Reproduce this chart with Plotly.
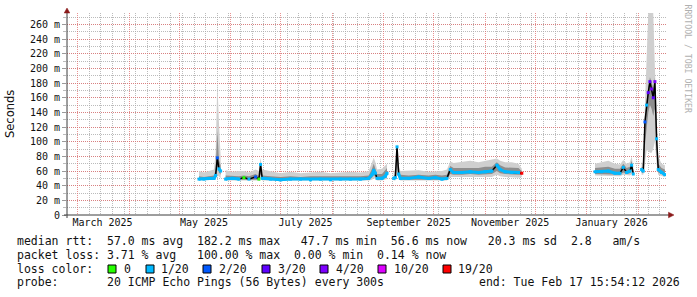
import plotly.graph_objects as go

# ---------------- data ----------------
x_start = "2025-02-22 15:54:12"
x_end = "2026-02-17 15:54:12"

dates = [
    "2025-05-13", "2025-05-16", "2025-05-19", "2025-05-22", "2025-05-23", "2025-05-24", "2025-05-25", "2025-05-26", "2025-05-27",
    "2025-05-29", "2025-06-02", "2025-06-06", "2025-06-09", "2025-06-12", "2025-06-16", "2025-06-18", "2025-06-19", "2025-06-20",
    "2025-06-25", "2025-07-01", "2025-07-07", "2025-07-13", "2025-07-19", "2025-07-25", "2025-07-31", "2025-08-06", "2025-08-12",
    "2025-08-18", "2025-08-23", "2025-08-25", "2025-08-26", "2025-08-27", "2025-08-28", "2025-08-31", "2025-09-02", "2025-09-03",
    "2025-09-05", "2025-09-07", "2025-09-08", "2025-09-09", "2025-09-10", "2025-09-11", "2025-09-16", "2025-09-22", "2025-09-28",
    "2025-10-02", "2025-10-06", "2025-10-09", "2025-10-11", "2025-10-13", "2025-10-18", "2025-10-23", "2025-10-28", "2025-11-01",
    "2025-11-05", "2025-11-08", "2025-11-10", "2025-11-13", "2025-11-17", "2025-11-21", "2025-11-23", "2025-11-24",
    "2026-01-06", "2026-01-10", "2026-01-14", "2026-01-18", "2026-01-21", "2026-01-23", "2026-01-25", "2026-01-27", "2026-01-28",
    "2026-01-29", "2026-01-31", "2026-02-03", "2026-02-04", "2026-02-05", "2026-02-06", "2026-02-07", "2026-02-08", "2026-02-09",
    "2026-02-10", "2026-02-11", "2026-02-12", "2026-02-13", "2026-02-15", "2026-02-17",
]

median_ms = [
    49, 49, 50, 50, 54, 78, 63, 60, None,
    49, 50, 49, 51, 49, 52, 49, 69, 50,
    49, 48, 49, 49, 48, 49, 48, 49, 49,
    49, 50, 55, 61, 57, 50, 50, 53, 57,
    None, 50, 51, 93, 56, 50, 50, 52, 50,
    51, 49, 50, 62, 58, 58, 59, 58, 59,
    60, 68, 62, 59, 58, 58, 57, None,
    59, 59, 60, 57, 57, 65, 58, 60, 68,
    56, None, 62, 60, 127, 150, 167, 182, 172,
    160, 182, 104, 62, 58, 55,
]

loss_count = [
    1, 1, 1, 1, 1, 2, 1, 1, None,
    1, 1, 1, 0, 1, 2, 0, 1, 1,
    1, 1, 1, 1, 1, 1, 1, 1, 1,
    1, 1, 1, 1, 1, 1, 1, 1, 1,
    None, 1, 1, 1, 1, 1, 1, 1, 1,
    1, 1, 1, 1, 1, 1, 1, 1, 1,
    1, 1, 1, 1, 1, 1, 19, None,
    1, 1, 1, 1, 1, 1, 1, 1, 1,
    1, None, 1, 1, 2, 1, 3, 3, 4,
    3, 4, 1, 1, 1, 1,
]

smoke_min = [
    47, 47, 47, 47, 48, 55, 52, 50, None,
    47, 47, 47, 47, 47, 47, 47, 50, 47,
    47, 46, 47, 47, 46, 47, 46, 47, 47,
    47, 47, 48, 50, 49, 47, 47, 48, 49,
    None, 47, 47, 55, 50, 47, 47, 47, 47,
    47, 47, 47, 52, 52, 51, 52, 51, 52,
    52, 55, 53, 52, 51, 51, 52, None,
    54, 54, 54, 53, 53, 55, 54, 54, 56,
    53, None, 55, 55, 70, 88, 88, 85, 85,
    90, 100, 70, 55, 53, 52,
]
smoke_lo = [
    48, 48, 48, 48, 50, 66, 58, 55, None,
    48, 48, 48, 48, 48, 49, 48, 56, 48,
    48, 47, 48, 48, 47, 48, 47, 48, 48,
    48, 48, 51, 55, 52, 48, 48, 50, 52,
    None, 48, 49, 70, 52, 48, 48, 49, 48,
    48, 48, 48, 56, 55, 55, 56, 55, 56,
    56, 60, 57, 56, 55, 55, 55, None,
    56, 56, 56, 55, 55, 58, 56, 57, 60,
    55, None, 58, 57, 95, 120, 140, 150, 145,
    135, 145, 90, 58, 56, 54,
]
smoke_hi = [
    53, 52, 53, 54, 62, 115, 75, 68, None,
    54, 53, 53, 54, 53, 56, 53, 72, 54,
    53, 52, 53, 52, 53, 53, 52, 52, 53,
    53, 54, 63, 70, 64, 56, 56, 62, 64,
    None, 53, 56, 95, 62, 55, 54, 55, 54,
    55, 54, 55, 67, 64, 64, 65, 64, 66,
    66, 72, 68, 65, 64, 64, 60, None,
    64, 65, 66, 63, 63, 70, 64, 66, 74,
    62, None, 66, 65, 135, 160, 175, 188, 182,
    172, 188, 118, 70, 64, 62,
]
smoke_max = [
    60, 58, 60, 62, 85, 182, 125, 80, None,
    61, 59, 60, 60, 58, 62, 60, 78, 62,
    60, 57, 59, 57, 58, 59, 57, 58, 59,
    58, 60, 72, 78, 72, 62, 63, 68, 70,
    None, 59, 63, 98, 68, 60, 60, 61, 59,
    60, 60, 62, 73, 71, 72, 74, 72, 74,
    75, 77, 74, 72, 72, 70, 63, None,
    70, 72, 74, 70, 69, 75, 70, 72, 80,
    66, None, 72, 70, 150, 210, 276, 276, 276,
    276, 200, 135, 80, 70, 68,
]

y_tick_vals = [0, 20, 40, 60, 80, 100, 120, 140, 160, 180, 200, 220, 240, 260]
y_tick_text = ["0", "20 m", "40 m", "60 m", "80 m", "100 m", "120 m", "140 m", "160 m",
               "180 m", "200 m", "220 m", "240 m", "260 m"]
x_tick_vals = ["2025-03-16", "2025-05-16", "2025-07-16", "2025-09-16", "2025-11-16", "2026-01-16"]
x_tick_text = ["March 2025", "May 2025", "July 2025", "September 2025", "November 2025", "January 2026"]

loss_levels = [0, 1, 2, 3, 4, 10, 19]
loss_labels = ["0", "1/20", "2/20", "3/20", "4/20", "10/20", "19/20"]
loss_colors = ["#26ff00", "#00b8ff", "#0059ff", "#5e00ff", "#7e00ff", "#dd00ff", "#ff0000"]

stats_rtt = "median rtt:  57.0 ms avg  182.2 ms max   47.7 ms min  56.6 ms now   20.3 ms sd  2.8   am/s"
stats_loss = "packet loss: 3.71 % avg   100.00 % max  0.00 % min  0.14 % now"
probe_text = "probe:       20 ICMP Echo Pings (56 Bytes) every 300s"
end_text = "end: Tue Feb 17 15:54:12 2026"

# ---------------- styling ----------------
W, H = 697, 297
L, R, T, B = 67, 666, 13, 215
PW, PH = R - L, B - T
MONO = "DejaVu Sans Mono"
SANS = "DejaVu Sans"
MAJ = "rgba(225,110,110,0.75)"
MIN = "rgba(170,170,170,0.8)"
OUTER = "#cfcfcf"
INNER = "#8e8e8e"
TXT = "#111111"


def px(xp):
    return (xp - L) / PW


def py(yp):
    return (B - yp) / PH


def nb(s):
    return s.replace(" ", "\u00a0")


fig = go.Figure()

# smoke bands, split into contiguous runs
runs, cur = [], []
for i, m in enumerate(median_ms):
    if m is None:
        if cur:
            runs.append(cur)
        cur = []
    else:
        cur.append(i)
if cur:
    runs.append(cur)

for lo_arr, hi_arr, col in [(smoke_min, smoke_max, OUTER), (smoke_lo, smoke_hi, INNER)]:
    for run in runs:
        xs = [dates[i] for i in run]
        fig.add_trace(go.Scatter(x=xs, y=[lo_arr[i] for i in run], mode="lines",
                                 line=dict(width=0, color=col), hoverinfo="skip"))
        fig.add_trace(go.Scatter(x=xs, y=[hi_arr[i] for i in run], mode="lines",
                                 line=dict(width=0, color=col), fill="tonexty",
                                 fillcolor=col, hoverinfo="skip"))

# median black line
fig.add_trace(go.Scatter(x=dates, y=median_ms, mode="lines", xaxis="x2",
                         line=dict(color="#000000", width=1.5), connectgaps=False,
                         hoverinfo="skip"))


def level_of(c):
    idx = 0
    for j, lv in enumerate(loss_levels):
        if c >= lv:
            idx = j
    return idx


# colored median by loss
for j, col in enumerate(loss_colors):
    xs, ys = [], []
    prev_i = None
    for i, m in enumerate(median_ms):
        if m is None or loss_count[i] is None:
            prev_i = None
            continue
        if level_of(loss_count[i]) == j:
            connected = (prev_i is not None and prev_i == i - 1
                         and abs(median_ms[prev_i] - m) <= 6)
            if xs and not connected:
                xs.append(None)
                ys.append(None)
            xs.append(dates[i])
            ys.append(m)
            prev_i = i
        else:
            prev_i = None
    if xs:
        fig.add_trace(go.Scatter(x=xs, y=ys, mode="lines+markers", xaxis="x2",
                                 line=dict(color=col, width=3),
                                 marker=dict(color=col, size=3, symbol="square"),
                                 connectgaps=False, hoverinfo="skip"))

# axes lines and arrows
AX = "#3c3c3c"
ARW = "#8b1a1a"
shapes = [
    dict(type="line", xref="paper", yref="paper", x0=px(64), x1=px(669), y0=0, y1=0,
         line=dict(color=AX, width=1)),
    dict(type="line", xref="paper", yref="paper", x0=0, x1=0, y0=py(218), y1=py(12),
         line=dict(color=AX, width=1)),
    dict(type="path", xref="paper", yref="paper",
         path=f"M {px(67)} {py(8)} L {px(64.2)} {py(13)} L {px(69.8)} {py(13)} Z",
         fillcolor=ARW, line=dict(color=ARW, width=0.5)),
    dict(type="path", xref="paper", yref="paper",
         path=f"M {px(674)} {py(215)} L {px(668.5)} {py(212.2)} L {px(668.5)} {py(217.8)} Z",
         fillcolor=ARW, line=dict(color=ARW, width=0.5)),
]

# legend boxes
box_left = [108, 146, 203, 262, 320, 378, 443]
label_left = [123, 160, 218, 277, 335, 393, 457]
for bl, col in zip(box_left, loss_colors):
    shapes.append(dict(type="rect", xref="paper", yref="paper",
                       x0=px(bl), x1=px(bl + 8), y0=py(273), y1=py(265),
                       fillcolor=col, line=dict(color="#000000", width=1)))

ann = []
FS = 11.5
ann.append(dict(text=nb(stats_rtt), x=px(16), y=py(241)))
ann.append(dict(text=nb(stats_loss), x=px(16), y=py(255)))
ann.append(dict(text=nb("loss color:"), x=px(16), y=py(268.5)))
for ll, lab in zip(label_left, loss_labels):
    ann.append(dict(text=lab, x=px(ll), y=py(268.5)))
ann.append(dict(text=nb(probe_text), x=px(16), y=py(282)))
for a in ann:
    a.update(xref="paper", yref="paper", xanchor="left", yanchor="middle", showarrow=False,
             borderpad=0, font=dict(family=MONO, size=FS, color=TXT))
ann.append(dict(text=nb(end_text), x=px(681), y=py(282), xref="paper", yref="paper",
                xanchor="right", yanchor="middle", showarrow=False, borderpad=0,
                font=dict(family=MONO, size=FS, color=TXT)))
ann.append(dict(text="Seconds", x=px(10), y=py(114), xref="paper", yref="paper",
                xanchor="center", yanchor="middle", textangle=-90, showarrow=False,
                font=dict(family=SANS, size=11.5, color=TXT)))
ann.append(dict(text=nb("RRDTOOL / TOBI OETIKER"), x=px(687.5), y=py(59), xref="paper",
                yref="paper", xanchor="center", yanchor="middle", textangle=90,
                showarrow=False, font=dict(family=MONO, size=8.2, color="#b0b0b0")))

fig.update_layout(
    width=W, height=H,
    margin=dict(l=L, r=W - R, t=T, b=H - B, pad=0),
    paper_bgcolor="white", plot_bgcolor="white",
    showlegend=False,
    xaxis=dict(type="date", range=[x_start, x_end], autorange=False,
               tickmode="linear", tick0="2025-03-01", dtick="M1",
               showticklabels=False, ticks="", showgrid=True, gridcolor=MAJ,
               griddash="1px,1px", gridwidth=1, zeroline=False, showline=False,
               minor=dict(tick0="2025-03-08", dtick=7 * 86400000, showgrid=True,
                          gridcolor=MIN, griddash="1px,1px", gridwidth=1)),
    xaxis2=dict(type="date", overlaying="x", anchor="y", side="bottom",
                range=[x_start, x_end], autorange=False,
                tickmode="array", tickvals=x_tick_vals, ticktext=x_tick_text,
                showgrid=False, ticks="", zeroline=False, showline=False,
                tickfont=dict(family=MONO, size=10, color=TXT)),
    yaxis=dict(range=[0, 275.7], autorange=False, tickmode="array",
               tickvals=y_tick_vals, ticktext=y_tick_text,
               showgrid=True, gridcolor=MAJ, griddash="1px,1px", gridwidth=1,
               ticks="outside", ticklen=4, tickcolor="#9a9a9a", zeroline=False,
               showline=False, tickfont=dict(family=MONO, size=10, color=TXT),
               minor=dict(tickmode="linear", tick0=0, dtick=10, showgrid=True,
                          gridcolor=MIN, griddash="1px,1px", gridwidth=1,
                          ticks="outside", ticklen=3, tickcolor="#bbbbbb")),
    shapes=shapes,
    annotations=ann,
)

fig.write_html("out.html")
